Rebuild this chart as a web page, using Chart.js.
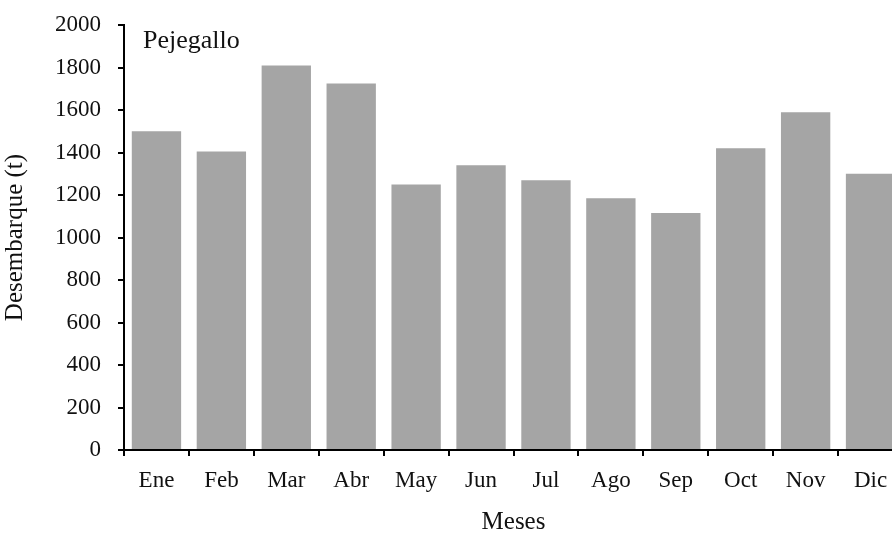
<!DOCTYPE html>
<html>
<head>
<meta charset="utf-8">
<script src="https://cdn.jsdelivr.net/npm/chart.js@4"></script>
<style>
    html, body { margin: 0; padding: 0; background: #fff; overflow: hidden; }
    #wrap { width: 903px; height: 534px; }
</style>
</head>
<body>
<div id="wrap"><canvas id="chart"></canvas></div>
<script>
// dados
const meses = ['Ene', 'Feb', 'Mar', 'Abr', 'May', 'Jun', 'Jul', 'Ago', 'Sep', 'Oct', 'Nov', 'Dic'];
const desembarque = [1500, 1405, 1810, 1725, 1250, 1340, 1270, 1185, 1115, 1420, 1590, 1300];
const yTicks = [0, 200, 400, 600, 800, 1000, 1200, 1400, 1600, 1800, 2000];

const fonte = 'Liberation Serif';

// texto "Pejegallo" dentro da área do gráfico
const rotuloEspecie = {
    id: 'rotuloEspecie',
    afterDraw(chart) {
        const ctx = chart.ctx;
        ctx.save();
        ctx.font = '26px "' + fonte + '"';
        ctx.fillStyle = '#111';
        ctx.textBaseline = 'middle';
        ctx.fillText('Pejegallo', chart.chartArea.left + 19, chart.chartArea.top + 16);
        ctx.restore();
    }
};

new Chart(document.getElementById('chart'), {
    type: 'bar',
    data: {
        labels: meses,
        datasets: [{
            label: 'Desembarque',
            data: desembarque,
            backgroundColor: '#a5a5a5',
            borderWidth: 0,
            categoryPercentage: 1,
            barPercentage: 0.76,
        }],
    },
    options: {
        responsive: true,
        maintainAspectRatio: false,
        animation: false,
        layout: { padding: { top: 25, right: 0, left: 0, bottom: 0 } },
        plugins: {
            legend: { display: false },
            tooltip: { enabled: false },
        },
        scales: {
            x: {
                grid: { drawOnChartArea: false, drawTicks: true, tickLength: 6, color: '#000', lineWidth: 2 },
                border: { display: true, color: '#000', width: 2 },
                ticks: { color: '#111', font: { family: fonte, size: 23 }, padding: 11, maxRotation: 0 },
                title: { display: true, text: 'Meses', color: '#111', font: { family: fonte, size: 25 }, padding: { top: 4, bottom: -3 } },
                afterFit(scale) { scale.height = 84; },
            },
            y: {
                min: 0,
                max: 2000,
                afterBuildTicks(scale) { scale.ticks = yTicks.map(v => ({ value: v })); },
                grid: { drawOnChartArea: false, drawTicks: true, tickLength: 6, color: '#000', lineWidth: 2 },
                border: { display: true, color: '#000', width: 2 },
                ticks: { color: '#111', font: { family: fonte, size: 23 }, padding: 17, callback: v => String(v) },
                title: { display: true, text: 'Desembarque (t)', color: '#111', font: { family: fonte, size: 25 }, padding: { top: 0, bottom: 0 } },
                afterFit(scale) {
                    scale.width = 124;
                    scale.paddingTop = 0;
                    scale.paddingBottom = 0;
                },
            },
        },
    },
    plugins: [rotuloEspecie],
});
</script>
</body>
</html>
